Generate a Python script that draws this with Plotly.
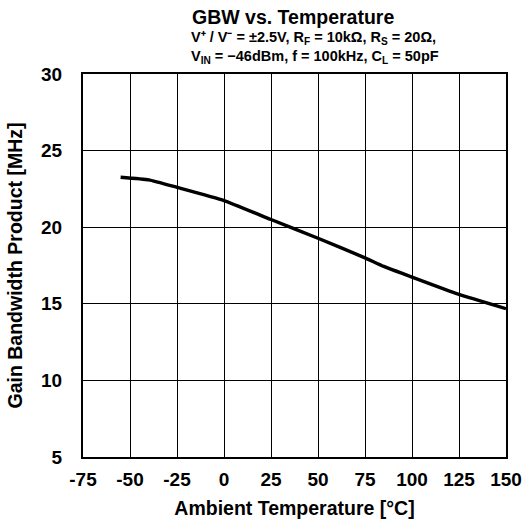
import plotly.graph_objects as go

# GBW measured across ambient temperature
temperature_c = [-55, -40, -25, 0, 25, 50, 75, 85, 100, 125, 150]
gbw_mhz = [23.26, 23.09, 22.6, 21.74, 20.5, 19.28, 18.0, 17.44, 16.74, 15.61, 14.68]

x_ticks = [-75, -50, -25, 0, 25, 50, 75, 100, 125, 150]
y_ticks = [5, 10, 15, 20, 25, 30]

FONT = "Liberation Sans, Arial, sans-serif"
W, H = 524, 523
M_L, M_R, M_T, M_B = 83, 18, 74, 66
PLOT_W = W - M_L - M_R
PLOT_H = H - M_T - M_B

fig = go.Figure()
fig.add_trace(go.Scatter(
    x=temperature_c, y=gbw_mhz, mode="lines",
    line=dict(color="black", width=3.4, shape="spline", smoothing=0.4),
    showlegend=False, hoverinfo="skip",
))

axis_common = dict(
    showgrid=True, gridcolor="black", gridwidth=1,
    showline=True, linecolor="black", linewidth=2, mirror=True,
    zeroline=False, ticks="", automargin=False,
    tickfont=dict(family=FONT, size=19, color="black"),
)

fig.update_xaxes(
    range=[-75, 150], tickvals=x_ticks, ticktext=[f"<b>{v}</b>" for v in x_ticks],
    ticklabelstandoff=4,
    title=dict(text="<b>Ambient Temperature [°C]</b>",
               font=dict(family=FONT, size=19.5, color="black"), standoff=13),
    **axis_common,
)
fig.update_yaxes(
    range=[5, 30], tickvals=y_ticks, ticktext=[f"<b>{v}</b>" for v in y_ticks],
    ticklabelstandoff=15,
    title=dict(text="<b>Gain Bandwidth Product [MHz]</b>",
               font=dict(family=FONT, size=19.5, color="black"), standoff=13),
    **axis_common,
)


def header_line(text, x_px, anchor, center_px, size):
    """Place one line of header text at a given pixel position."""
    return dict(
        text=text, x=(x_px - M_L) / PLOT_W, y=1 + (M_T - center_px) / PLOT_H,
        xref="paper", yref="paper", xanchor=anchor, yanchor="middle",
        showarrow=False, font=dict(family=FONT, size=size, color="black"),
    )


fig.update_layout(
    width=W, height=H,
    margin=dict(l=M_L, r=M_R, t=M_T, b=M_B),
    paper_bgcolor="white", plot_bgcolor="white",
    font=dict(family=FONT, color="black"),
    annotations=[
        header_line("<b>GBW vs. Temperature</b>", 293, "center", 17, 19.5),
        header_line("<b>V⁺ / V⁻ = ±2.5V, R<sub>F</sub> = 10kΩ, R<sub>S</sub> = 20Ω,</b>",
                    189, "left", 38, 14.5),
        header_line("<b>V<sub>IN</sub> = −46dBm, f = 100kHz, C<sub>L</sub> = 50pF</b>",
                    189, "left", 57, 14.5),
    ],
)

fig.write_html("out.html")
